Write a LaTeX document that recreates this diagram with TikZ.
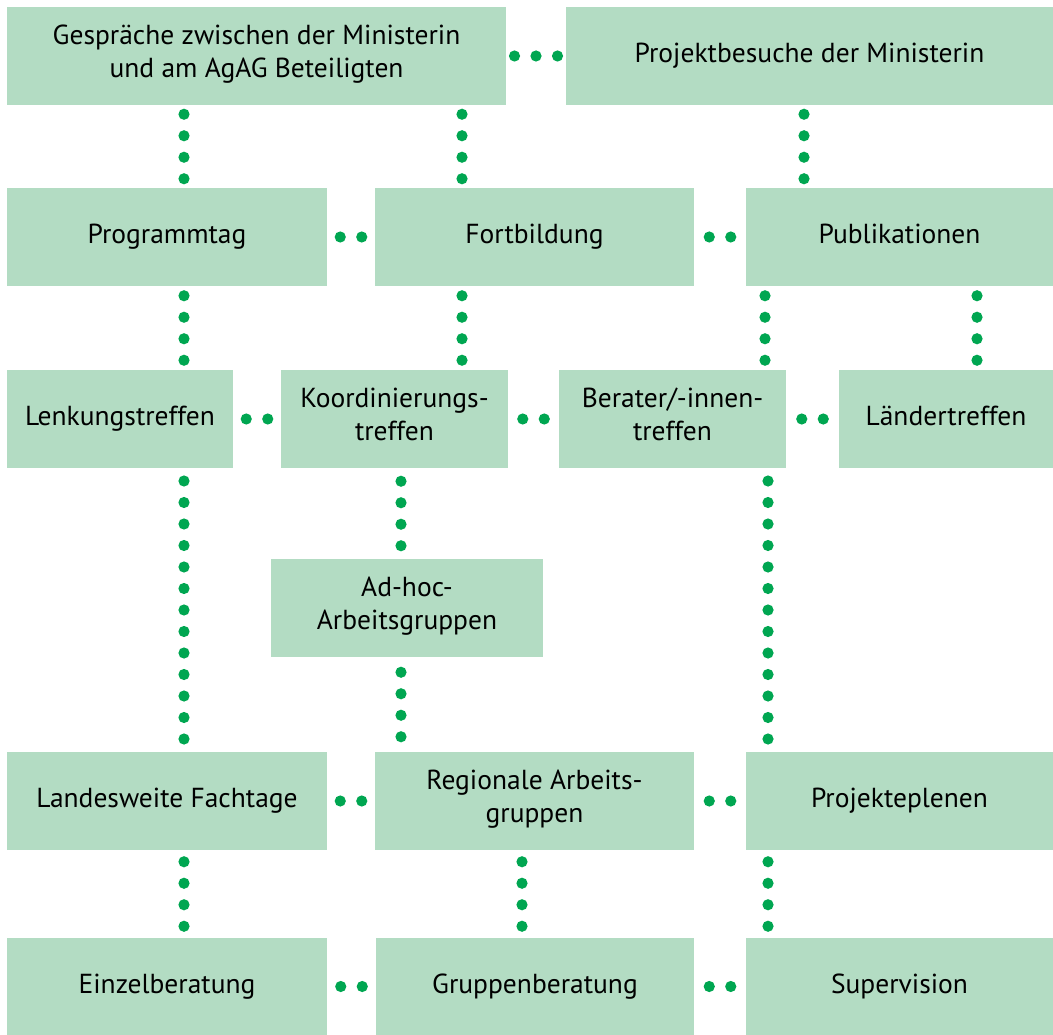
\documentclass[tikz,border=0pt]{standalone}
\usepackage{fontspec}
\setmainfont{PT Sans}
\usetikzlibrary{calc}

\definecolor{boxgreen}{HTML}{B3DCC3}
\definecolor{dotgreen}{HTML}{00A651}

% #1 from, #2 to, #3 number of dots (centred in the gap)
\newcommand{\dotchain}[3]{%
    \coordinate (mid) at ($(#1)!0.5!(#2)$);
    \foreach \k in {1,...,#3} {
        \fill[dotgreen] ($(mid)!{(\k-(#3+1)/2)*21.5pt}!(#2)$) circle[radius=5.6pt];
    }
}

\tikzset{
    box/.style={
        rectangle,
        fill=boxgreen,
        anchor=north west,
        inner sep=0pt,
        outer sep=0pt,
        minimum height=98pt,
        align=center,
        font=\fontsize{27.5}{33}\selectfont,
        execute at begin node=\strut,
        execute at end node=\strut
    }
}

\begin{document}
\begin{tikzpicture}[x=1pt, y=-1pt]
    \useasboundingbox (0,0) rectangle (1053,1035);

    % boxes
    \node[box, minimum width=499pt] (talks)  at (7,7)     {Gespräche zwischen der Ministerin\\und am AgAG Beteiligten};
    \node[box, minimum width=487pt] (visits) at (566,7)   {Projektbesuche der Ministerin};

    \node[box, minimum width=320pt] (progtag) at (7,188)   {Programmtag};
    \node[box, minimum width=319pt] (fortb)   at (375,188) {Fortbildung};
    \node[box, minimum width=307pt] (publ)    at (746,188) {Publikationen};

    \node[box, minimum width=226pt] (lenk)   at (7,370)   {Lenkungstreffen};
    \node[box, minimum width=227pt] (koord)  at (281,370) {Koordinierungs-\\treffen};
    \node[box, minimum width=227pt] (berat)  at (559,370) {Berater/-innen-\\treffen};
    \node[box, minimum width=214pt] (laend)  at (839,370) {Ländertreffen};

    \node[box, minimum width=272pt] (adhoc)  at (271,559) {Ad-hoc-\\Arbeitsgruppen};

    \node[box, minimum width=320pt] (landes) at (7,752)   {Landesweite Fachtage};
    \node[box, minimum width=319pt] (regio)  at (375,752) {Regionale Arbeits-\\gruppen};
    \node[box, minimum width=307pt] (plenen) at (746,752) {Projekteplenen};

    \node[box, minimum width=320pt, minimum height=97pt] (einzel) at (7,938)   {Einzelberatung};
    \node[box, minimum width=318pt, minimum height=97pt] (gruppe) at (376,938) {Gruppenberatung};
    \node[box, minimum width=307pt, minimum height=97pt] (superv) at (746,938) {Supervision};

    % columns of the vertical dot chains
    \coordinate (xa) at (184,0);
    \coordinate (xb) at (462,0);
    \coordinate (xc) at (804,0);
    \coordinate (xd) at (765,0);
    \coordinate (xe) at (977,0);
    \coordinate (xf) at (401,0);
    \coordinate (xg) at (768,0);
    \coordinate (xh) at (522,0);

    % horizontal chains
    \dotchain{talks.east}{visits.west}{3}
    \dotchain{progtag.east}{fortb.west}{2}
    \dotchain{fortb.east}{publ.west}{2}
    \dotchain{lenk.east}{koord.west}{2}
    \dotchain{koord.east}{berat.west}{2}
    \dotchain{berat.east}{laend.west}{2}
    \dotchain{landes.east}{regio.west}{2}
    \dotchain{regio.east}{plenen.west}{2}
    \dotchain{einzel.east}{gruppe.west}{2}
    \dotchain{gruppe.east}{superv.west}{2}

    % vertical chains
    \dotchain{talks.south -| xa}{progtag.north -| xa}{4}
    \dotchain{talks.south -| xb}{fortb.north -| xb}{4}
    \dotchain{visits.south -| xc}{publ.north -| xc}{4}

    \dotchain{progtag.south -| xa}{lenk.north -| xa}{4}
    \dotchain{fortb.south -| xb}{koord.north -| xb}{4}
    \dotchain{publ.south -| xd}{berat.north -| xd}{4}
    \dotchain{publ.south -| xe}{laend.north -| xe}{4}

    \dotchain{lenk.south -| xa}{landes.north -| xa}{13}
    \dotchain{koord.south -| xf}{adhoc.north -| xf}{4}
    \dotchain{adhoc.south -| xf}{regio.north -| xf}{4}
    \dotchain{berat.south -| xg}{plenen.north -| xg}{13}

    \dotchain{landes.south -| xa}{einzel.north -| xa}{4}
    \dotchain{regio.south -| xh}{gruppe.north -| xh}{4}
    \dotchain{plenen.south -| xg}{superv.north -| xg}{4}

\end{tikzpicture}
\end{document}
